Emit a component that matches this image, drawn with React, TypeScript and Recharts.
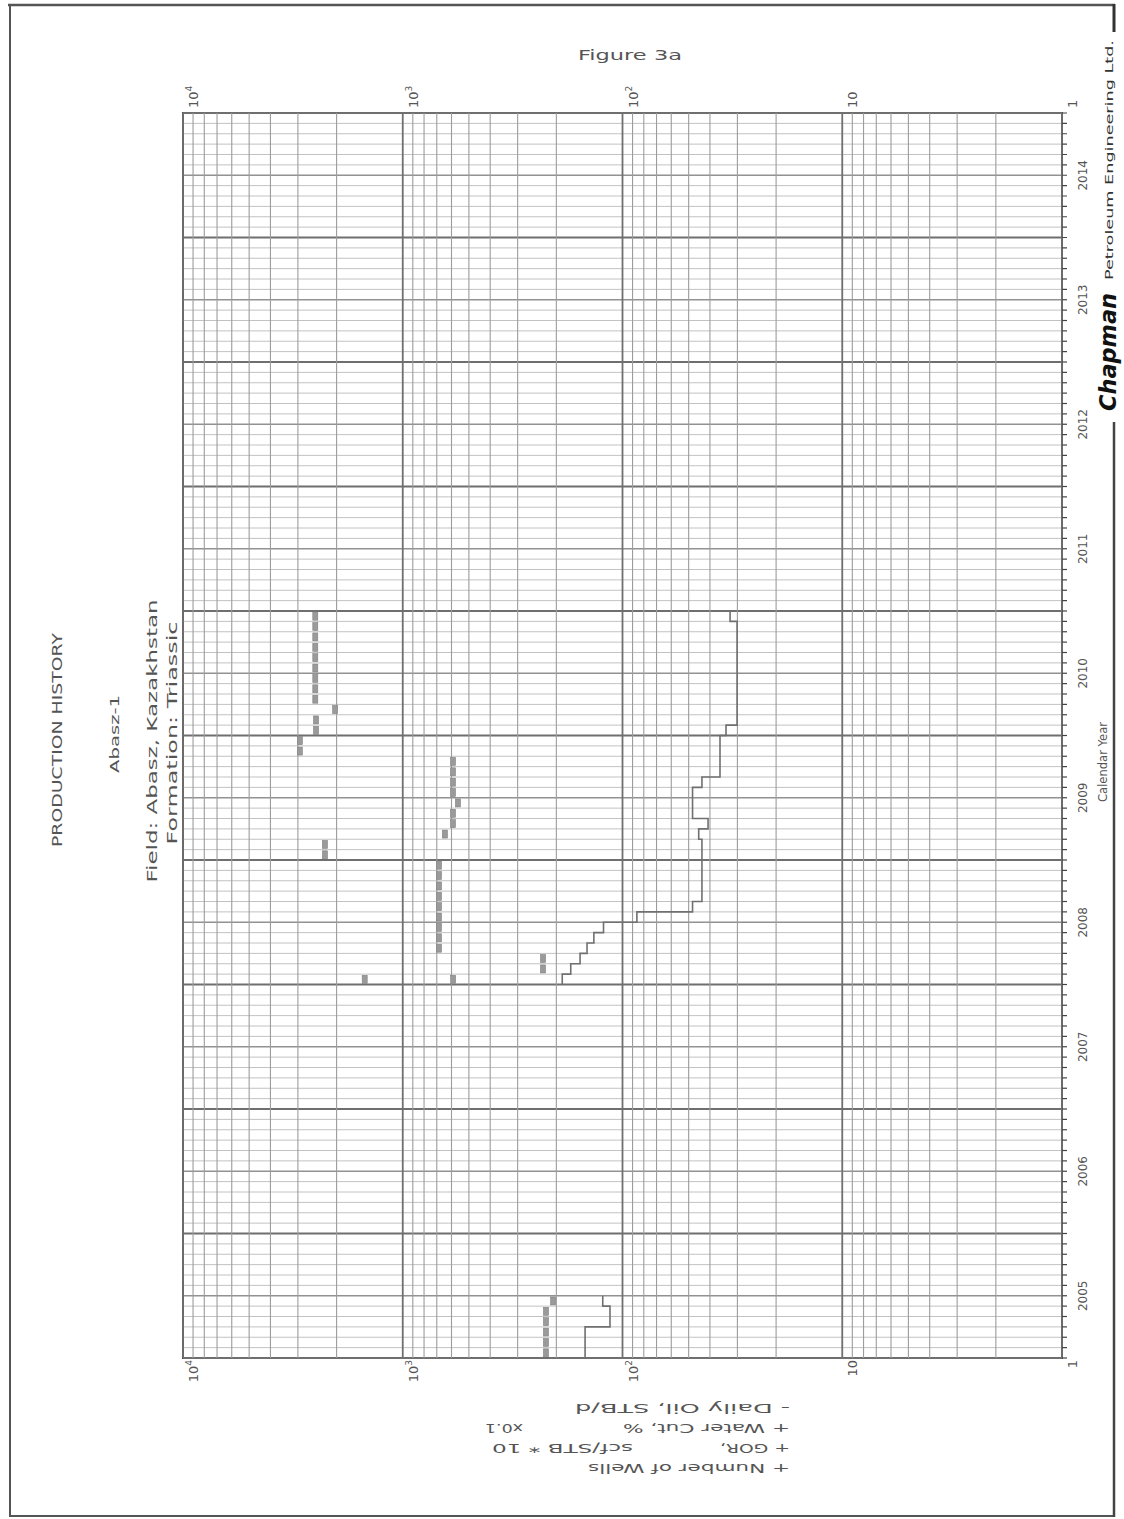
import React from 'react';
import { ComposedChart, Line, Scatter, XAxis, YAxis, ReferenceLine, ReferenceArea } from 'recharts';

// ---- data (plotted values) ----
const YEARS = [2005, 2006, 2007, 2008, 2009, 2010, 2011, 2012, 2013, 2014];
const LOG_TICKS = [1, 10, 100, 1000, 10000];

// daily oil, STB/d, monthly steps
const OIL_2005 = [148, 148, 148, 114, 114, 123]; // Jan-Jun 2005
const OIL_2008 = [
  188, 172, 156, 145, 135, 122, 86, 48, 43.5, 43.5, 43.5, 43.5,
  43.5, 43.5, 45, 40.8, 48, 48, 48, 43.5, 36, 36, 36, 36,
  33.8, 30.1, 30.1, 30.1, 30.1, 30.1, 30.1, 30.1, 30.1, 30.1, 30.1, 32.4,
]; // Jan 2008 - Dec 2010

// water cut, % x0.1 (plotted)
const WC_2005 = [223, 223, 223, 223, 223, 207];
const WC_2008 = [
  590, 230, 230, 684, 684, 684, 684, 684, 684, 684, 684, 684,
  null, null, 643, 591, 591, 561, 591, 591, 591, 591, null, null,
  null, null, null, null, null, null, null, null, null, null, null, null,
];

// GOR, scf/STB x 10 (plotted)
const GOR_2008 = [
  1490, null, null, null, null, null, null, null, null, null, null, null,
  2260, 2260, null, null, null, null, null, null, null, null, 2940, 2940,
  2480, 2480, 2030, 2500, 2500, 2500, 2500, 2500, 2500, 2500, 2500, 2500,
];

const oilRows: { t: number; oil: number | null }[] = [
  ...OIL_2005.map((v, k) => ({ t: 2005 + k / 12, oil: v })),
  { t: 2005 + OIL_2005.length / 12, oil: OIL_2005[OIL_2005.length - 1] },
  { t: 2005.6, oil: null },
  ...OIL_2008.map((v, k) => ({ t: 2008 + k / 12, oil: v })),
  { t: 2008 + OIL_2008.length / 12, oil: OIL_2008[OIL_2008.length - 1] },
];

const midMonth = (y0: number, arr: (number | null)[]) =>
  arr
    .map((v, k) => ({ t: y0 + (k + 0.5) / 12, v }))
    .filter((r) => r.v != null);

const wcRows = [...midMonth(2005, WC_2005), ...midMonth(2008, WC_2008)];
const gorRows = midMonth(2008, GOR_2008);

const monthTicks: number[] = [];
YEARS.forEach((y) => {
  for (let m = 0; m < 12; m++) monthTicks.push(y + m / 12);
});
monthTicks.push(YEARS[YEARS.length - 1] + 1);

const logGrid: number[] = [];
LOG_TICKS.slice(0, -1).forEach((d) => {
  for (let m = 1; m < 10; m++) logGrid.push(d * m);
});
logGrid.push(LOG_TICKS[LOG_TICKS.length - 1]);

const INK = '#555';
const FONT = '"DejaVu Sans", sans-serif';

function monthIndex(t: number) {
  return Math.round((t - YEARS[0]) * 12);
}

function YearTick(props: any) {
  const { x, y, payload } = props;
  const k = monthIndex(payload.value);
  if (k % 12 !== 6) return <g />;
  return (
    <text x={x} y={y + 18} textAnchor="middle" fontSize={12} fill={INK} fontFamily={FONT}>
      {YEARS[0] + Math.floor(k / 12)}
    </text>
  );
}

function logLabel(v: number) {
  const e = Math.round(Math.log10(v));
  if (e === 0) return { base: '1', exp: '' };
  if (e === 1) return { base: '10', exp: '' };
  return { base: '10', exp: String(e) };
}

function LogTick(props: any) {
  const { x, y, payload, anchor } = props;
  const { base, exp } = logLabel(payload.value);
  return (
    <text x={x} y={y + 15} textAnchor={anchor} fontSize={13} fill={INK} fontFamily={FONT}>
      <tspan>{base}</tspan>
      {exp && (
        <tspan dy={-6} fontSize={9}>
          {exp}
        </tspan>
      )}
    </text>
  );
}

function DashMark(props: any) {
  const { cx, cy } = props;
  if (cx == null || cy == null) return <g />;
  return <rect x={cx - 4} y={cy - 2.5} width={8} height={5} fill="#9a9a9a" stroke="#808080" strokeWidth={0.6} />;
}

function RotText({ x, y, len, size, angle = -90, anchor = 'middle', fill = INK, weight, italic, children }: any) {
  return (
    <text
      x={x}
      y={y}
      transform={`rotate(${angle} ${x} ${y})`}
      textAnchor={anchor}
      dominantBaseline="central"
      fontSize={size}
      fontFamily={FONT}
      fontWeight={weight}
      fontStyle={italic ? 'italic' : undefined}
      fill={fill}
      textLength={len}
      lengthAdjust="spacingAndGlyphs"
    >
      {children}
    </text>
  );
}

export default function App() {
  return (
    <div style={{ position: 'absolute', left: 0, top: 0, width: 1124, height: 1519, overflow: 'hidden', background: '#fff' }}>
      <div
        style={{
          position: 'absolute',
          left: 173,
          top: 1408,
          width: 1345,
          height: 949,
          transform: 'rotate(-90deg)',
          transformOrigin: '0 0',
        }}
      >
        <ComposedChart width={1345} height={949} data={oilRows} margin={{ top: 10, right: 10, bottom: 10, left: 10 }}>
          <XAxis
            dataKey="t"
            type="number"
            domain={[YEARS[0], YEARS[YEARS.length - 1] + 1]}
            allowDataOverflow
            ticks={monthTicks}
            interval={0}
            height={50}
            tickSize={5}
            tickLine={{ stroke: '#444', strokeWidth: 1.2 }}
            axisLine={false}
            tick={<YearTick />}
          />
          <YAxis
            type="number"
            scale="log"
            domain={[1, 10000]}
            allowDataOverflow
            ticks={LOG_TICKS}
            interval={0}
            width={40}
            tickSize={0}
            tickMargin={2}
            tickLine={false}
            axisLine={false}
            tick={<LogTick anchor="end" />}
          />
          <YAxis
            yAxisId="R"
            orientation="right"
            type="number"
            scale="log"
            domain={[1, 10000]}
            allowDataOverflow
            ticks={LOG_TICKS}
            interval={0}
            width={40}
            tickSize={0}
            tickMargin={5}
            tickLine={false}
            axisLine={false}
            tick={<LogTick anchor="start" />}
          />
          {monthTicks.map((t) => {
            const k = monthIndex(t);
            const year = k % 12 === 0;
            const half = k % 6 === 0;
            return (
              <ReferenceLine
                key={'m' + k}
                x={t}
                stroke={year ? '#6f6f6f' : half ? '#929292' : '#c2c2c2'}
                strokeWidth={year ? 1.8 : half ? 1.3 : 1}
              />
            );
          })}
          {logGrid.map((v) => {
            const decade = Math.abs(Math.log10(v) - Math.round(Math.log10(v))) < 1e-9;
            return (
              <ReferenceLine
                key={'l' + v}
                y={v}
                stroke={decade ? '#6f6f6f' : '#9c9c9c'}
                strokeWidth={decade ? 1.8 : 1.1}
              />
            );
          })}
          <ReferenceArea
            x1={YEARS[0]}
            x2={YEARS[YEARS.length - 1] + 1}
            y1={1}
            y2={10000}
            fill="none"
            fillOpacity={0}
            stroke="#4a4a4a"
            strokeWidth={2}
          />
          <Line
            type="stepAfter"
            dataKey="oil"
            stroke="#707070"
            strokeWidth={1.6}
            dot={false}
            connectNulls={false}
            isAnimationActive={false}
          />
          <Scatter data={wcRows} dataKey="v" shape={<DashMark />} isAnimationActive={false} />
          <Scatter data={gorRows} dataKey="v" shape={<DashMark />} isAnimationActive={false} />
        </ComposedChart>
      </div>

      <svg width={1124} height={1519} style={{ position: 'absolute', left: 0, top: 0, pointerEvents: 'none' }}>
        {/* page border */}
        <line x1={8} y1={5} x2={1115} y2={5} stroke="#555" strokeWidth={2.5} />
        <line x1={10} y1={5} x2={10} y2={1517} stroke="#555" strokeWidth={2} />
        <line x1={10} y1={1516} x2={1114} y2={1516} stroke="#555" strokeWidth={2} />
        <line x1={1114} y1={4} x2={1114} y2={32} stroke="#333" strokeWidth={3} />
        <line x1={1114} y1={422} x2={1114} y2={1517} stroke="#444" strokeWidth={2.5} />

        <text x={630} y={60} textAnchor="middle" fontSize={14} fontFamily={FONT} fill={INK} textLength={104} lengthAdjust="spacingAndGlyphs">
          Figure 3a
        </text>

        <RotText x={57} y={740} len={214} size={14}>PRODUCTION HISTORY</RotText>
        <RotText x={114} y={734} len={78} size={13}>Abasz-1</RotText>
        <RotText x={152} y={741} len={283} size={14}>Field: Abasz, Kazakhstan</RotText>
        <RotText x={172} y={733} len={223} size={14}>Formation: Triassic</RotText>
        <RotText x={1103} y={762} len={80} size={12}>Calendar Year</RotText>

        <RotText x={1108} y={352} len={118} size={23} weight="bold" italic fill="#111">Chapman</RotText>
        <RotText x={1109} y={160} len={240} size={10} fill="#333">Petroleum Engineering Ltd.</RotText>

        {/* legend, upside down */}
        <RotText x={790} y={1408} len={215} size={12} angle={180} anchor="start">- Daily Oil, STB/d</RotText>
        <RotText x={790} y={1428} len={167} size={12} angle={180} anchor="start">+ Water Cut, %</RotText>
        <RotText x={523} y={1428} len={38} size={12} angle={180} anchor="start">x0.1</RotText>
        <RotText x={790} y={1448} len={70} size={12} angle={180} anchor="start">+ GOR,</RotText>
        <RotText x={633} y={1448} len={141} size={12} angle={180} anchor="start">scf/STB * 10</RotText>
        <RotText x={790} y={1468} len={202} size={12} angle={180} anchor="start">+ Number of Wells</RotText>
      </svg>
    </div>
  );
}
